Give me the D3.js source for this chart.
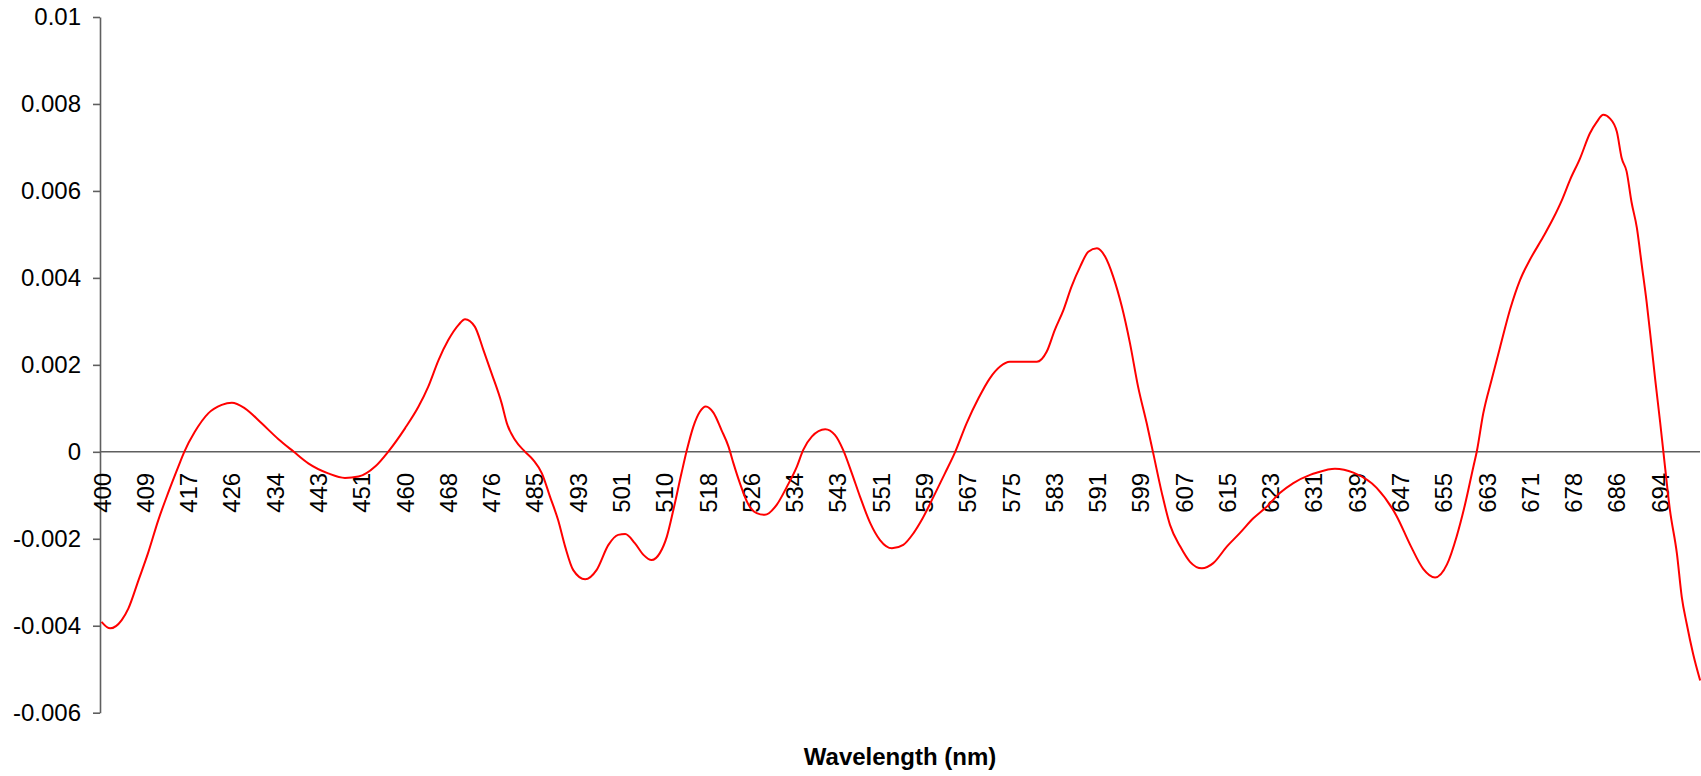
<!DOCTYPE html>
<html>
<head>
<meta charset="utf-8">
<script src="https://cdn.jsdelivr.net/npm/d3@7"></script>
<style>
  body { margin: 0; background: #fff; }
  text { font-family: Arial, "Liberation Sans", sans-serif; fill: #000; }
</style>
</head>
<body>
<div id="chart"></div>
<script>
// Category labels shown on the x axis (nm)
const tickLabels = [400, 409, 417, 426, 434, 443, 451, 460, 468, 476, 485, 493, 501, 510,
  518, 526, 534, 543, 551, 559, 567, 575, 583, 591, 599, 607, 615, 623, 631, 639,
  647, 655, 663, 671, 678, 686, 694];

// y axis ticks and their labels
const yTicks = [0.01, 0.008, 0.006, 0.004, 0.002, 0, -0.002, -0.004, -0.006];
const yTickLabels = ['0.01', '0.008', '0.006', '0.004', '0.002', '0', '-0.002', '-0.004', '-0.006'];

// Spectrum
const wavelengths = [
  400.0, 401.8, 404.2, 405.6, 407.7, 409.6, 411.5, 413.3, 415.2, 416.3,
  418.4, 421.2, 424.0, 426.1, 428.5, 431.6, 434.8, 438.0, 441.0, 444.9,
  448.0, 450.5, 453.9, 456.6, 460.1, 462.6, 464.4, 466.3, 468.1, 470.0,
  471.2, 473.0, 474.6, 476.1, 478.2, 479.3, 481.0, 483.1, 484.8, 486.4,
  487.9, 489.4, 490.7, 492.2, 494.4, 496.5, 498.7, 500.5, 501.9, 503.9,
  505.7, 507.4, 509.1, 510.5, 511.7, 513.2, 514.2, 515.4, 516.6, 517.7,
  519.1, 520.6, 521.9, 522.8, 524.0, 525.6, 527.1, 528.6, 530.8, 532.7,
  534.6, 535.9, 537.7, 540.5, 542.5, 544.1, 545.7, 547.2, 549.1, 550.9,
  553.1, 555.2, 557.1, 558.6, 560.8, 562.9, 564.8, 566.9, 569.1, 571.2,
  573.1, 574.9, 577.4, 579.9, 581.7, 583.2, 584.8, 586.3, 587.9, 589.4,
  591.0, 592.5, 594.0, 595.6, 597.1, 598.6, 600.2, 601.4, 603.0, 604.5,
  606.4, 608.2, 610.4, 612.5, 615.0, 617.4, 619.9, 622.4, 624.8, 627.3,
  630.4, 631.6, 635.0, 638.4, 642.7, 646.4, 648.9, 651.3, 653.5, 655.7,
  657.5, 659.0, 660.6, 661.2, 662.4, 664.0, 665.5, 667.4, 669.2, 671.0,
  673.2, 674.8, 676.2, 677.5, 679.3, 681.1, 682.4, 683.6, 684.8, 686.1,
  687.0, 687.9, 688.8, 689.8, 690.7, 691.6, 692.5, 693.2, 694.1, 694.7,
  695.9, 697.2, 698.1, 699.0, 700.2, 701.5
];
const values = [
  -0.00391, -0.00406, -0.00387, -0.00360, -0.00295, -0.00233, -0.00157, -0.00095, -0.00034, 0.00000,
  0.00046, 0.000885, 0.00108, 0.00113, 0.00100, 0.000655, 0.00029, 0.00000, -0.000265, -0.000495,
  -0.00060, -0.00057, -0.00034, 0.00000, 0.00054, 0.00104, 0.00150, 0.00211, 0.00257, 0.00292,
  0.00305, 0.00288, 0.00234, 0.00181, 0.00112, 0.000655, 0.00027, 0.00000, -0.00019, -0.000495,
  -0.00103, -0.00157, -0.00218, -0.00272, -0.00293, -0.00272, -0.00214, -0.00191, -0.00189, -0.00210,
  -0.00237, -0.00249, -0.00233, -0.00195, -0.00134, -0.000495, 0.00004, 0.00058, 0.00092, 0.00104,
  0.00090, 0.00050, 0.00012, -0.00026, -0.00072, -0.00122, -0.00141, -0.00145, -0.00122, -0.00080,
  -0.00034, 0.00004, 0.00035, 0.00052, 0.00039, 0.00004, -0.000495, -0.00103, -0.00164, -0.00203,
  -0.00222, -0.00214, -0.00187, -0.00157, -0.00103, -0.000495, 0.00000, 0.000655, 0.00123, 0.00169,
  0.00196, 0.00207, 0.00207, 0.00207, 0.00230, 0.00280, 0.00326, 0.00380, 0.00426, 0.00460,
  0.00468, 0.00449, 0.00403, 0.00334, 0.00250, 0.00150, 0.000655, -0.00003, -0.00095, -0.00168,
  -0.00218, -0.00253, -0.00268, -0.00256, -0.00218, -0.00187, -0.00153, -0.00126, -0.00095, -0.00072,
  -0.00053, -0.00048, -0.00039, -0.00048, -0.00083, -0.00148, -0.00214, -0.00269, -0.00289, -0.00259,
  -0.00194, -0.00123, -0.00033, 0.00000, 0.00088, 0.00168, 0.00240, 0.00329, 0.00395, 0.00441,
  0.00495, 0.00537, 0.00579, 0.00625, 0.00675, 0.00732, 0.00759, 0.00775, 0.00767, 0.00736,
  0.00675, 0.00645, 0.00575, 0.00515, 0.00430, 0.00345, 0.00245, 0.00165, 0.00068, 0.00000,
  -0.00133, -0.00234, -0.00334, -0.00395, -0.00465, -0.00526
];

const width = 1701;
const height = 776;
const plot = { left: 100, right: 1700, top: 17, bottom: 712.7 };

const svg = d3.select('#chart')
  .append('svg')
  .attr('width', width)
  .attr('height', height)
  .style('background', '#fff');

// category axis: labels evenly spaced, wavelengths mapped through them
const xPoint = d3.scalePoint()
  .domain(tickLabels)
  .range([101.5, 1659.6]);

const xScale = d3.scaleLinear()
  .domain(tickLabels)
  .range(tickLabels.map((d) => xPoint(d)));

const yScale = d3.scaleLinear()
  .domain([-0.006, 0.01])
  .range([plot.bottom, plot.top]);

const axisColor = '#5f5f5f';

// y axis
const yAxis = d3.axisLeft(yScale)
  .tickValues(yTicks)
  .tickFormat((d, i) => yTickLabels[i])
  .tickSizeInner(7)
  .tickSizeOuter(0)
  .tickPadding(12);

const yG = svg.append('g')
  .attr('transform', `translate(${plot.left},0)`)
  .call(yAxis);
yG.select('.domain').attr('stroke', axisColor).attr('stroke-width', 1.6);
yG.selectAll('.tick line').attr('stroke', axisColor).attr('stroke-width', 1.6);
yG.selectAll('.tick text')
  .style('font-size', '24px')
  .attr('fill', '#000');

// zero line (category axis)
svg.append('line')
  .attr('x1', plot.left)
  .attr('x2', plot.right)
  .attr('y1', yScale(0))
  .attr('y2', yScale(0))
  .attr('stroke', axisColor)
  .attr('stroke-width', 1.6);

const xAxis = d3.axisBottom(xPoint).tickSize(0);
const xG = svg.append('g')
  .attr('transform', `translate(0,${yScale(0)})`)
  .call(xAxis);
xG.select('.domain').remove();
xG.selectAll('.tick text')
  .attr('transform', 'rotate(-90)')
  .attr('x', -21)
  .attr('y', 0)
  .attr('dy', '0.36em')
  .style('text-anchor', 'end')
  .style('font-size', '24px')
  .attr('fill', '#000');

// spectrum line
const line = d3.line()
  .x((d, i) => xScale(wavelengths[i]))
  .y((d) => yScale(d))
  .curve(d3.curveMonotoneX);

svg.append('path')
  .datum(values)
  .attr('d', line)
  .attr('fill', 'none')
  .attr('stroke', '#ff0000')
  .attr('stroke-width', 2);

// axis title
svg.append('text')
  .attr('x', 900)
  .attr('y', 765)
  .attr('text-anchor', 'middle')
  .style('font-size', '24px')
  .style('font-weight', 'bold')
  .text('Wavelength (nm)');
</script>
</body>
</html>
